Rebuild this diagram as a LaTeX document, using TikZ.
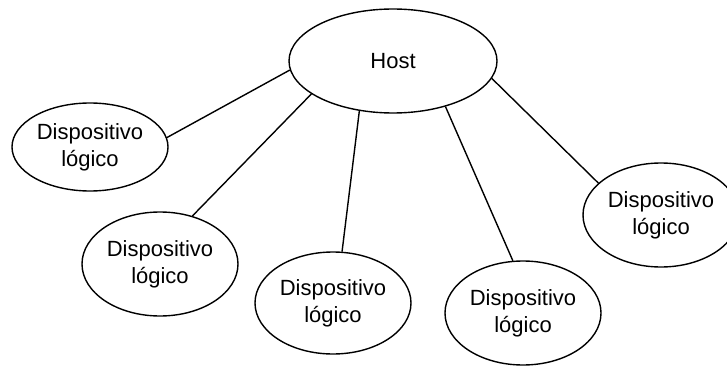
\documentclass[tikz,border=0pt]{standalone}
\usepackage{fontspec}
\setmainfont{Liberation Sans}
\usetikzlibrary{shapes.geometric}
\begin{document}
\begin{tikzpicture}[x=1pt,y=-1pt,
  oval/.style={ellipse, draw=black, line width=1.4pt, fill=white,
    minimum width=156pt, minimum height=100pt, inner sep=0pt,
    align=center, font=\fontsize{22}{27}\selectfont},
  hostoval/.style={oval, minimum width=208pt, minimum height=104pt},
  link/.style={draw=black, line width=1.4pt}]
\useasboundingbox (0,0) rectangle (727,366);
\fill[white] (0,0) rectangle (727,366);
% host and the five logical devices
\node[hostoval] (host) at (393,61) {Host};
\node[oval, minimum height=88pt] (d1) at (90,147) {Dispositivo\\lógico};
\node[oval, minimum height=104pt] (d2) at (160,264) {Dispositivo\\lógico};
\node[oval, minimum height=102pt] (d3) at (333,303) {Dispositivo\\lógico};
\node[oval, minimum height=104pt] (d4) at (523,313) {Dispositivo\\lógico};
\node[oval, minimum height=104pt] (d5) at (661,215) {Dispositivo\\lógico};
% connections from the host
\draw[link] (host.185) -- (d1.7);
\draw[link] (host.202) -- (d2.56);
\draw[link] (host.236) -- (d3.80);
\draw[link] (host.319) -- (d4.101);
\draw[link] (host.350) -- (d5.153);
\end{tikzpicture}
\end{document}
